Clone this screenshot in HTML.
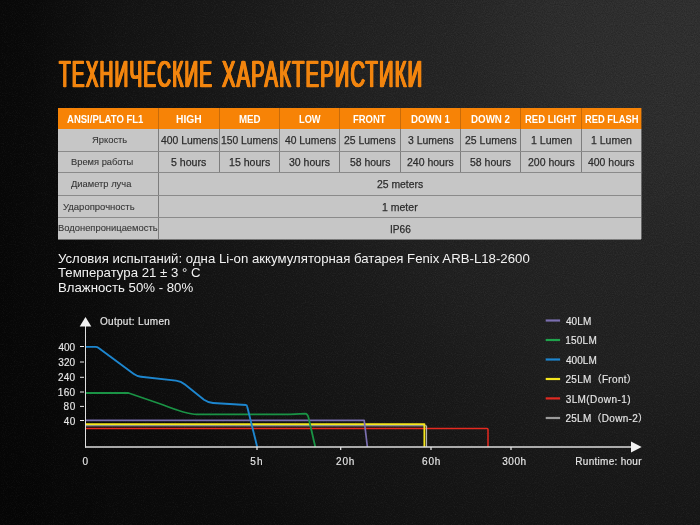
<!DOCTYPE html>
<html lang="ru">
<head>
<meta charset="utf-8">
<title>Технические характеристики</title>
<style>
*{margin:0;padding:0;box-sizing:border-box}
html,body{width:700px;height:525px;overflow:hidden;background:#141414}
body{position:relative;font-family:"Liberation Sans", sans-serif;background:linear-gradient(to right, rgba(0,0,0,.28) 0px, rgba(0,0,0,0) 130px), radial-gradient(circle 860px at 700px 0px, #303030 0%, #2d2d2d 17%, #262626 29%, #212121 43%, #1b1b1b 52%, #171717 60%, #121212 71%, #0d0d0d 78%, #0b0b0b 84%, #080808 100%)}
h1,table,thead,tbody,tr,ul,figure{display:block;font-size:0;line-height:0}
li{list-style:none}
.t{display:block;position:absolute;white-space:nowrap;line-height:1;font-weight:400;font-style:normal;text-align:left;transform-origin:0 50%}
.t.ti{font-size:36.5px;font-weight:400;color:#f2850f;letter-spacing:2.2px;-webkit-text-stroke:0.5px #f2850f;text-shadow:0.7px 0 0 #f2850f,-0.7px 0 0 #f2850f,1.4px 0 0 #f2850f,-1.4px 0 0 #f2850f}
#tbl{display:block;position:absolute;left:58px;top:108px;width:583px;height:131px;background:#c6c6c6}
#tbl::before{content:'';position:absolute;left:0;top:131px;width:583px;height:1px;background:rgba(198,198,198,.55)}
#tbl::after{content:'';position:absolute;left:583px;top:0;width:1px;height:131px;background:linear-gradient(rgba(247,131,6,.4) 0,rgba(247,131,6,.4) 21.2px,rgba(198,198,198,.4) 21.2px)}
#hdr{position:absolute;left:0;top:0;width:100%;height:21.2px;background:#f78306}
.vl{position:absolute;width:1px;background:#7d7d7d;top:21.2px;height:43.7px}
.vh{position:absolute;width:1px;background:#a85c0c;top:0;height:21.2px;opacity:.6}
.hl{position:absolute;left:0;width:100%;height:1px;background:#8a8a8a}
.t.h{color:#fff;font-weight:700;font-size:11.7px}
.t.b{color:#2c2c2c;font-size:11.2px;-webkit-text-stroke:0.25px #2c2c2c}
.t.r{color:#363636;font-size:9.6px;-webkit-text-stroke:0.1px #363636}
.t.n{color:#f2f2f2;font-size:13.4px}
.t.ch{color:#e6e6e6;font-size:10px;font-family:"Liberation Sans", "Noto Sans CJK SC", sans-serif;-webkit-text-stroke:0.15px #e6e6e6}
svg{position:absolute;left:0;top:0}
</style>
</head>
<body>
<svg id="grain" width="700" height="525" viewBox="0 0 700 525" aria-hidden="true"><filter id="nf" x="0" y="0" width="100%" height="100%" color-interpolation-filters="sRGB"><feTurbulence type="fractalNoise" baseFrequency="0.9" numOctaves="2" seed="7" result="n"/><feColorMatrix in="n" type="matrix" values="0 0 0 0 1  0 0 0 0 1  0 0 0 0 1  0.12 0 0 0 -0.06" result="w"/><feColorMatrix in="n" type="matrix" values="0 0 0 0 0  0 0 0 0 0  0 0 0 0 0  -0.5 0 0 0 0.25" result="k"/><feMerge><feMergeNode in="w"/><feMergeNode in="k"/></feMerge></filter><rect width="700" height="525" fill="none" filter="url(#nf)"/></svg>
<h1><span class="t ti" style="left:59.16px;top:57px;transform:scaleX(0.5233)">ТЕХНИЧЕСКИЕ</span> <span class="t ti" style="left:222.24px;top:57px;transform:scaleX(0.5509)">ХАРАКТЕРИСТИКИ</span></h1>
<div id="tbl"><div id="hdr"></div><div class="vh" style="left:100px"></div><div class="vl" style="left:100px;height:110.3px"></div><div class="vh" style="left:161px"></div><div class="vl" style="left:161px"></div><div class="vh" style="left:221px"></div><div class="vl" style="left:221px"></div><div class="vh" style="left:281px"></div><div class="vl" style="left:281px"></div><div class="vh" style="left:342px"></div><div class="vl" style="left:342px"></div><div class="vh" style="left:402px"></div><div class="vl" style="left:402px"></div><div class="vh" style="left:462px"></div><div class="vl" style="left:462px"></div><div class="vh" style="left:523px"></div><div class="vl" style="left:523px"></div><div class="hl" style="top:42.5px"></div><div class="hl" style="top:64.2px"></div><div class="hl" style="top:86.9px"></div><div class="hl" style="top:108.9px"></div></div>
<table>
<thead><tr><th scope="col" class="t h" style="left:66.80px;top:113px;transform:scaleX(0.8150)">ANSI/PLATO FL1</th><th scope="col" class="t h" style="left:176.34px;top:113px;transform:scaleX(0.8793)">HIGH</th><th scope="col" class="t h" style="left:238.88px;top:113px;transform:scaleX(0.8323)">MED</th><th scope="col" class="t h" style="left:298.51px;top:113px;transform:scaleX(0.7925)">LOW</th><th scope="col" class="t h" style="left:353.39px;top:113px;transform:scaleX(0.8101)">FRONT</th><th scope="col" class="t h" style="left:410.78px;top:113px;transform:scaleX(0.8306)">DOWN 1</th><th scope="col" class="t h" style="left:471.37px;top:113px;transform:scaleX(0.8352)">DOWN 2</th><th scope="col" class="t h" style="left:524.99px;top:113px;transform:scaleX(0.8129)">RED LIGHT</th><th scope="col" class="t h" style="left:585.00px;top:113px;transform:scaleX(0.8000)">RED FLASH</th></tr></thead>
<tbody>
<tr><th scope="row" class="t r" style="left:92.11px;top:135px;transform:scaleX(0.9759)">Яркость</th><td class="t b" style="left:160.60px;top:135px;transform:scaleX(0.9273)">400 Lumens</td><td class="t b" style="left:220.91px;top:135px;transform:scaleX(0.9223)">150 Lumens</td><td class="t b" style="left:284.60px;top:135px;transform:scaleX(0.9236)">40 Lumens</td><td class="t b" style="left:344.13px;top:135px;transform:scaleX(0.9321)">25 Lumens</td><td class="t b" style="left:407.77px;top:135px;transform:scaleX(0.9313)">3 Lumens</td><td class="t b" style="left:464.93px;top:135px;transform:scaleX(0.9358)">25 Lumens</td><td class="t b" style="left:530.69px;top:135px;transform:scaleX(0.9467)">1 Lumen</td><td class="t b" style="left:591.30px;top:135px;transform:scaleX(0.9373)">1 Lumen</td></tr>
<tr><th scope="row" class="t r" style="left:71.27px;top:157px;transform:scaleX(0.9721)">Время работы</th><td class="t b" style="left:171.36px;top:157px;transform:scaleX(0.9469)">5 hours</td><td class="t b" style="left:228.69px;top:157px;transform:scaleX(0.9459)">15 hours</td><td class="t b" style="left:289.37px;top:157px;transform:scaleX(0.9395)">30 hours</td><td class="t b" style="left:349.77px;top:157px;transform:scaleX(0.9302)">58 hours</td><td class="t b" style="left:407.13px;top:157px;transform:scaleX(0.9388)">240 hours</td><td class="t b" style="left:470.37px;top:157px;transform:scaleX(0.9395)">58 hours</td><td class="t b" style="left:527.53px;top:157px;transform:scaleX(0.9388)">200 hours</td><td class="t b" style="left:588.40px;top:157px;transform:scaleX(0.9333)">400 hours</td></tr>
<tr><th scope="row" class="t r" style="left:71.40px;top:179px;transform:scaleX(0.9742)">Диаметр луча</th><td colspan="8" class="t b" style="left:377.09px;top:179px;transform:scaleX(0.9286)">25 meters</td></tr>
<tr><th scope="row" class="t r" style="left:62.75px;top:202px;transform:scaleX(0.9895)">Ударопрочность</th><td colspan="8" class="t b" style="left:381.80px;top:202px;transform:scaleX(0.9396)">1 meter</td></tr>
<tr><th scope="row" class="t r" style="left:57.92px;top:223px;transform:scaleX(0.9777)">Водонепроницаемость</th><td colspan="8" class="t b" style="left:389.74px;top:224px;transform:scaleX(0.9057)">IP66</td></tr>
</tbody>
</table>
<section id="notes">
<p class="t n" style="left:57.60px;top:252px;transform:scaleX(0.9868)">Условия испытаний: одна Li-on аккумуляторная батарея Fenix ARB-L18-2600</p>
<p class="t n" style="left:57.60px;top:266px;transform:scaleX(0.9868)">Температура 21 ± 3 ° C</p>
<p class="t n" style="left:57.60px;top:281px;transform:scaleX(0.9868)">Влажность 50% - 80%</p>
</section>
<figure id="chart">
<svg width="700" height="525" viewBox="0 0 700 525" fill="none" stroke-linejoin="round" stroke-linecap="butt"><path d="M85.5 428.4 H487 Q488 428.4 488 429.4 V447" stroke="#e62a20" stroke-width="1.5"/><path d="M85.5 425.8 H426.6 V447" stroke="#c4c4c4" stroke-width="1"/><path d="M85.5 424.1 H424.4 V447" stroke="#f5e61e" stroke-width="1.9"/><path d="M85.5 420.4 H364.2 L367.4 447" stroke="#7b6fb0" stroke-width="1.7"/><path d="M85.5 393 H128.5 L162 404.5 Q187 414.4 197 414.4 L290 414.4 L305 413.7 Q307.6 413.8 308.6 418 L315.3 447" stroke="#1a9345" stroke-width="1.8"/><path d="M85.5 346.9 H95.5 Q97.3 346.9 99 348.2 L133.5 373.8 Q137 376.3 141 376.8 L176 380.6 Q181 381.2 185 384.5 L204 399.8 Q208 402.6 213 403 L246 405 Q246.9 405 247.3 407 L257.2 447" stroke="#1d86cf" stroke-width="1.9"/><path d="M85.5 326 V447.6" stroke="#e0e0e0" stroke-width="1"/><path d="M85 447 H631" stroke="#dcdcdc" stroke-width="1.4"/><path d="M85.5 317 L91.3 326.6 H79.7 Z" fill="#f2f2f2"/><path d="M641.7 447 L631 441.6 V452.4 Z" fill="#f2f2f2"/><path d="M80 346.5 H84" stroke="#e8e8e8" stroke-width="1"/><path d="M80 362 H84" stroke="#e8e8e8" stroke-width="1"/><path d="M80 377.3 H84" stroke="#e8e8e8" stroke-width="1"/><path d="M80 392 H84" stroke="#e8e8e8" stroke-width="1"/><path d="M80 406.4 H84" stroke="#e8e8e8" stroke-width="1"/><path d="M80 420.5 H84" stroke="#e8e8e8" stroke-width="1"/><path d="M257 447 V450" stroke="#e8e8e8" stroke-width="1.2"/><path d="M340.7 447 V450" stroke="#e8e8e8" stroke-width="1.2"/><path d="M431 447 V450" stroke="#e8e8e8" stroke-width="1.2"/><path d="M511 447 V450" stroke="#e8e8e8" stroke-width="1.2"/><path d="M545.7 320.5 H560.1" stroke="#7b6fb0" stroke-width="2.2"/><path d="M545.7 340 H560.1" stroke="#1fa34c" stroke-width="2.2"/><path d="M545.7 359.5 H560.1" stroke="#1d86cf" stroke-width="2.2"/><path d="M545.7 379 H560.1" stroke="#f5e61e" stroke-width="2.2"/><path d="M545.7 398.4 H560.1" stroke="#e22a22" stroke-width="2.2"/><path d="M545.7 418 H560.1" stroke="#9a9a9a" stroke-width="2.2"/></svg>
<span class="t ch" style="left:99.95px;top:317px;letter-spacing:0.312px">Output: Lumen</span>
<span class="t ch" style="left:58.50px;top:343px">400</span>
<span class="t ch" style="left:58.25px;top:358px;letter-spacing:0.125px">320</span>
<span class="t ch" style="left:58.00px;top:373px;letter-spacing:0.250px">240</span>
<span class="t ch" style="left:57.75px;top:388px;letter-spacing:0.375px">160</span>
<span class="t ch" style="left:63.55px;top:402px;letter-spacing:0.700px">80</span>
<span class="t ch" style="left:63.80px;top:417px;letter-spacing:0.450px">40</span>
<span class="t ch" style="left:82.55px;top:457px">0</span>
<span class="t ch" style="left:250.15px;top:457px;letter-spacing:1.350px">5h</span>
<span class="t ch" style="left:336.10px;top:457px;letter-spacing:0.825px">20h</span>
<span class="t ch" style="left:422.10px;top:457px;letter-spacing:0.825px">60h</span>
<span class="t ch" style="left:502.15px;top:457px;letter-spacing:0.567px">300h</span>
<span class="t ch" style="left:575.35px;top:457px;letter-spacing:0.283px">Runtime: hour</span>
<ul id="legend">
<li class="t ch" style="left:565.90px;top:317px;letter-spacing:0.117px">40LM</li>
<li class="t ch" style="left:565.15px;top:336px;letter-spacing:0.250px">150LM</li>
<li class="t ch" style="left:565.90px;top:356px;letter-spacing:0.062px">400LM</li>
<li class="t ch" style="left:565.40px;top:375px;letter-spacing:0.310px">25LM（Front）</li>
<li class="t ch" style="left:565.65px;top:395px;letter-spacing:0.425px">3LM(Down-1)</li>
<li class="t ch" style="left:565.40px;top:414px;letter-spacing:0.286px">25LM（Down-2）</li>
</ul>
</figure>
</body>
</html>
